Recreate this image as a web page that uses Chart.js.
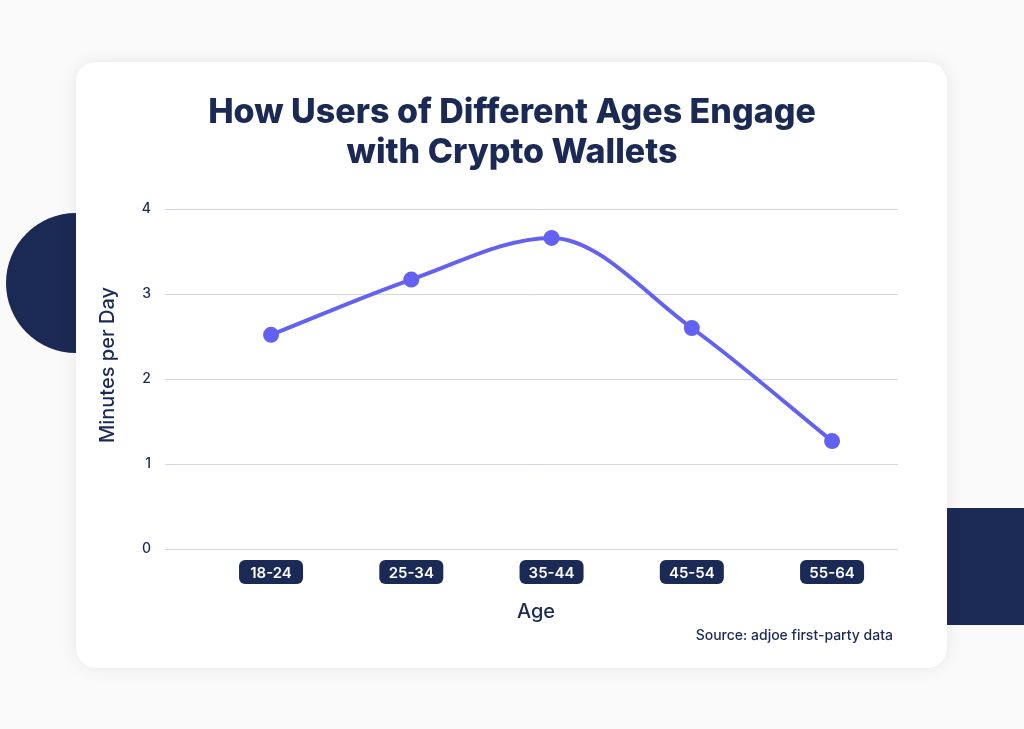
<!DOCTYPE html>
<html><head><meta charset="utf-8">
<script src="https://cdn.jsdelivr.net/npm/chart.js@4"></script>
<style>html,body{margin:0;padding:0;background:#fff;overflow:hidden}</style>
</head><body>
<canvas id="c" width="1024" height="729" style="width:1024px;height:729px"></canvas>
<script>
const categories = ["18-24","25-34","35-44","45-54","55-64"];
const minutesPerDay = [2.52, 3.17, 3.66, 2.6, 1.27];
const yTicks = [0,1,2,3,4];
const NAVY = "#1b2a55", LINE = "#6361f2", FONT = "Inter, 'Open Sans', sans-serif";

function rr(ctx,x,y,w,h,r){ctx.beginPath();ctx.moveTo(x+r,y);ctx.arcTo(x+w,y,x+w,y+h,r);ctx.arcTo(x+w,y+h,x,y+h,r);ctx.arcTo(x,y+h,x,y,r);ctx.arcTo(x,y,x+w,y,r);ctx.closePath();}

const deco = {
  id:'deco',
  beforeDraw(chart){
    const ctx = chart.ctx; ctx.save();
    ctx.fillStyle = "#fafafb"; ctx.fillRect(0,0,1024,729);
    ctx.fillStyle = NAVY;
    ctx.beginPath(); ctx.arc(76,283,70,0,Math.PI*2); ctx.fill();
    ctx.fillRect(940,508,84,117);
    ctx.shadowColor = "rgba(0,0,0,0.08)"; ctx.shadowBlur = 18;
    ctx.fillStyle = "#fff"; rr(ctx,76,62,871,606,20); ctx.fill();
    ctx.restore();
  },
  afterDraw(chart){
    const ctx = chart.ctx, xs = chart.scales.x; ctx.save();
    ctx.fillStyle = NAVY; ctx.textAlign = "center"; ctx.textBaseline = "middle";
    ctx.font = "800 34px " + FONT;
    ctx.fillText("How Users of Different Ages Engage", 512, 113);
    ctx.fillText("with Crypto Wallets", 512, 153);
    ctx.font = "500 20px " + FONT;
    ctx.fillText("Age", 536, 612);
    ctx.save(); ctx.translate(108,365); ctx.rotate(-Math.PI/2);
    ctx.fillText("Minutes per Day", 0, 0); ctx.restore();
    ctx.font = "500 14px " + FONT; ctx.textAlign = "right";
    ctx.fillText("Source: adjoe first-party data", 893, 636);
    ctx.font = "600 15px " + FONT; ctx.textAlign = "center";
    categories.forEach((c,i)=>{
      const px = xs.getPixelForValue(i);
      ctx.fillStyle = NAVY; rr(ctx,px-32,560,64,24,6); ctx.fill();
      ctx.fillStyle = "#fff"; ctx.fillText(c, px, 573);
    });
    ctx.restore();
  }
};

new Chart(document.getElementById('c'), {
  type:'line',
  data:{datasets:[{data: minutesPerDay.map((v,i)=>({x:i,y:v})), borderColor:LINE, backgroundColor:LINE,
    borderWidth:4, pointRadius:6, pointHoverRadius:6, tension:0.4, cubicInterpolationMode:'monotone', fill:false}]},
  options:{
    responsive:false, animation:false, devicePixelRatio:1,
    layout:{padding:{left:0,top:209,right:126,bottom:0}},
    plugins:{legend:{display:false}, tooltip:{enabled:false}},
    scales:{
      x:{type:'linear', min:-0.756, max:4.47, grid:{display:false}, border:{display:false},
         ticks:{display:false}, afterFit(s){s.height=180;}},
      y:{min:0, max:4, afterBuildTicks(s){s.ticks = yTicks.map(v=>({value:v}));},
         grid:{color:"#d3d6e2", drawTicks:false}, border:{display:false},
         ticks:{color:NAVY, font:{family:FONT,size:14,weight:'500'}, padding:14},
         afterFit(s){s.width=165;}}
    }
  },
  plugins:[deco]
});
</script>
</body></html>
